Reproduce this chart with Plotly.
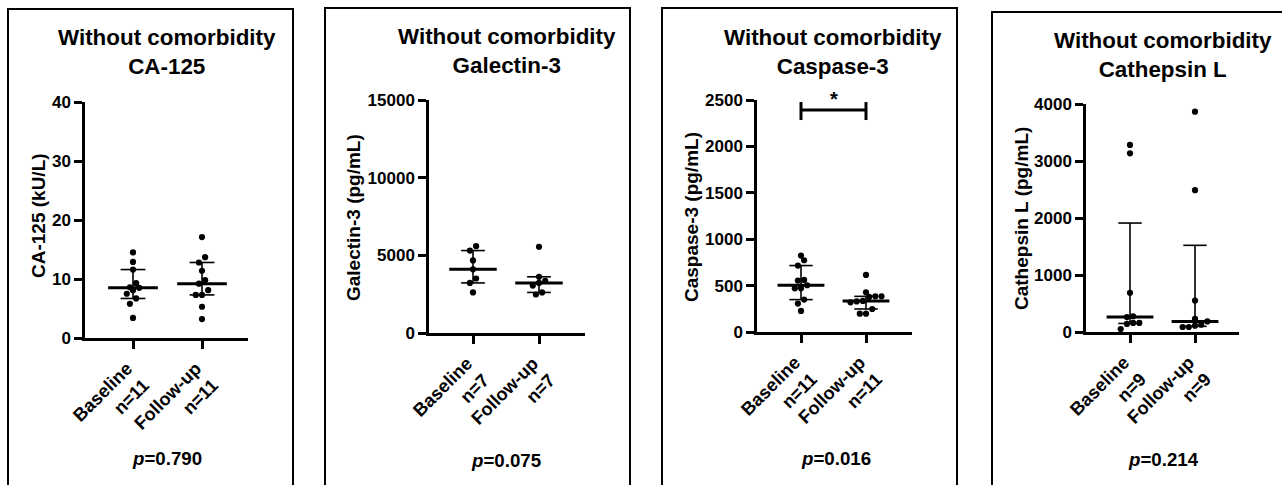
import numpy as np
import plotly.graph_objects as go

# ---------------- data ----------------
groups = ["Baseline", "Follow-up"]

ca125_baseline = [14.5, 12.9, 11.6, 9.3, 8.1, 8.5, 8.6, 7.5, 6.7, 5.8, 3.4]
ca125_followup = [17.1, 13.7, 12.8, 11.4, 9.8, 9.2, 8.1, 7.3, 7.3, 5.3, 3.2]

gal_baseline = [5592, 5307, 4671, 4101, 3509, 3224, 2610]
gal_followup = [5553, 3618, 3355, 3224, 3053, 2612, 2480]

casp_baseline = [824, 773, 716, 561, 554, 504, 471, 471, 349, 306, 227]
casp_followup = [615, 428, 384, 384, 378, 335, 330, 320, 248, 198, 198]

cath_baseline = [3282, 3135, 688, 276, 262, 159, 159, 141, 53]
cath_followup = [3865, 2488, 553, 229, 185, 129, 111, 88, 88]

markers = ["CA-125", "Galectin-3", "Caspase-3", "Cathepsin L"]
y_titles = ["CA-125 (kU/L)", "Galectin-3 (pg/mL)", "Caspase-3 (pg/mL)", "Cathepsin L (pg/mL)"]
p_values = ["0.790", "0.075", "0.016", "0.214"]
y_max = [40, 15000, 2500, 4000]
y_dtick = [10, 5000, 500, 1000]
series = [
    (ca125_baseline, ca125_followup),
    (gal_baseline, gal_followup),
    (casp_baseline, casp_followup),
    (cath_baseline, cath_followup),
]

# ---------------- layout geometry (pixels) ----------------
W, H = 1282, 485
FONT = "Liberation Sans"

# plot area: left, right, top, bottom ; category tick pixel positions
areas = [
    (85, 248, 102, 338, 133, 202),
    (429, 585, 100, 333, 473, 539),
    (757, 912, 100, 332, 801, 866),
    (1086, 1239, 104, 332, 1130, 1195),
]
boxes = [(8, 293, 9), (325, 630, 8), (662, 957, 8), (992, 1300, 12)]
title_pos = [(167, 52), (507, 51), (833, 52), (1163, 55)]
ytitle_pos = [(38, 216), (354, 217), (692, 217), (1022, 218)]
p_pos = [(167, 458), (506, 460), (836, 458), (1163, 459)]


def px(x):
    return x / W


def py(y):
    return 1 - y / H


def swarm(vals, ppy, ppx, d):
    vals = np.asarray(vals, dtype=float)
    order = np.argsort(vals, kind="stable")
    off = np.zeros(len(vals))
    grps, cur, start = [], [order[0]], vals[order[0]]
    for k in order[1:]:
        if (vals[k] - start) * ppy < d:
            cur.append(k)
        else:
            grps.append(cur)
            cur, start = [k], vals[k]
    grps.append(cur)
    for g in grps:
        m = len(g)
        for j, idx in enumerate(g):
            off[idx] = (j - (m - 1) / 2) * d / ppx
    return off


fig = go.Figure()
shapes = []
annotations = []
DOT = 6.2

for i in range(4):
    L, R, T, B, c0, c1 = areas[i]
    unit = c1 - c0
    xr = [-(c0 - L) / unit, 1 + (R - c1) / unit]
    ppy = (B - T) / y_max[i]
    ax = "" if i == 0 else str(i + 1)
    xref, yref = "x" + ax, "y" + ax

    for gi, vals in enumerate(series[i]):
        off = swarm(vals, ppy, unit, DOT)
        xs = gi + off
        fig.add_trace(go.Scatter(
            x=xs, y=vals, mode="markers", xaxis=xref, yaxis=yref,
            marker=dict(color="black", size=DOT, line=dict(width=0)),
            showlegend=False, hoverinfo="y", cliponaxis=False))
        med = np.median(vals)
        q1 = np.percentile(vals, 25, method="weibull")
        q3 = np.percentile(vals, 75, method="weibull")
        # IQR whisker and caps
        fig.add_trace(go.Scatter(
            x=[gi, gi, None, gi - 0.18, gi + 0.18, None, gi - 0.18, gi + 0.18],
            y=[q1, q3, None, q1, q1, None, q3, q3],
            mode="lines", xaxis=xref, yaxis=yref,
            line=dict(color="black", width=1.6),
            showlegend=False, hoverinfo="skip", cliponaxis=False))
        # median line
        fig.add_trace(go.Scatter(
            x=[gi - 0.36, gi + 0.36], y=[med, med],
            mode="lines", xaxis=xref, yaxis=yref,
            line=dict(color="black", width=3),
            showlegend=False, hoverinfo="skip", cliponaxis=False))

    n_b, n_f = len(series[i][0]), len(series[i][1])
    fig.layout["xaxis" + ax] = dict(
        domain=[px(L), px(R)], range=xr, anchor=yref, automargin=False,
        tickvals=[0, 1],
        ticktext=[f"{groups[0]}<br>n={n_b}", f"{groups[1]}<br>n={n_f}"],
        tickangle=-45, showline=True, linecolor="black", linewidth=2.5,
        ticks="outside", ticklen=8, tickwidth=2.5, tickcolor="black",
        ticklabelshift=-6, ticklabelstandoff=2,
        showgrid=False, zeroline=False,
        tickfont=dict(family=FONT, size=18.2, color="black", weight="bold"),
    )
    fig.layout["yaxis" + ax] = dict(
        domain=[py(B), py(T)], range=[0, y_max[i]], anchor=xref, automargin=False,
        dtick=y_dtick[i], tick0=0, tickformat="d",
        showline=True, linecolor="black", linewidth=2.5,
        ticks="outside", ticklen=8, tickwidth=2.5, tickcolor="black",
        showgrid=False, zeroline=False,
        tickfont=dict(family=FONT, size=17, color="black", weight="bold"),
    )

    bx0, bx1, bt = boxes[i]
    shapes.append(dict(type="rect", xref="paper", yref="paper",
                       x0=px(bx0), x1=px(bx1), y0=py(495), y1=py(bt),
                       line=dict(color="black", width=2), fillcolor="rgba(0,0,0,0)",
                       layer="below"))

    tx, ty = title_pos[i]
    annotations.append(dict(
        xref="paper", yref="paper", x=px(tx), y=py(ty), showarrow=False,
        xanchor="center", yanchor="middle", align="center",
        text=f"Without comorbidity<br>{markers[i]}",
        font=dict(family=FONT, size=22.4, color="black", weight="bold")))

    yx, yy = ytitle_pos[i]
    annotations.append(dict(
        xref="paper", yref="paper", x=px(yx), y=py(yy), showarrow=False,
        xanchor="center", yanchor="middle", textangle=-90,
        text=y_titles[i],
        font=dict(family=FONT, size=19, color="black", weight="bold")))

    ppx_, ppy_ = p_pos[i]
    annotations.append(dict(
        xref="paper", yref="paper", x=px(ppx_), y=py(ppy_), showarrow=False,
        xanchor="center", yanchor="middle",
        text=f"<i>p</i>={p_values[i]}",
        font=dict(family=FONT, size=18.7, color="black", weight="bold")))

# significance bar on Caspase-3 panel
sig_y, cap_lo, cap_hi = 2392, 2284, 2478
fig.add_trace(go.Scatter(
    x=[0, 1, None, 0, 0, None, 1, 1],
    y=[sig_y, sig_y, None, cap_lo, cap_hi, None, cap_lo, cap_hi],
    mode="lines", xaxis="x3", yaxis="y3",
    line=dict(color="black", width=3),
    showlegend=False, hoverinfo="skip", cliponaxis=False))
annotations.append(dict(
    xref="x3", yref="y3", x=0.5, y=sig_y, showarrow=False,
    xanchor="center", yanchor="bottom", text="*", yshift=-2,
    font=dict(family=FONT, size=20, color="black", weight="bold")))

fig.update_layout(
    width=W, height=H, margin=dict(l=0, r=0, t=0, b=0, autoexpand=False),
    paper_bgcolor="white", plot_bgcolor="rgba(0,0,0,0)",
    shapes=shapes, annotations=annotations, showlegend=False,
)

fig.write_html(
    "out.html",
    config={"displayModeBar": False},
    post_script="document.body.style.margin='0';document.body.style.overflow='hidden';",
)
